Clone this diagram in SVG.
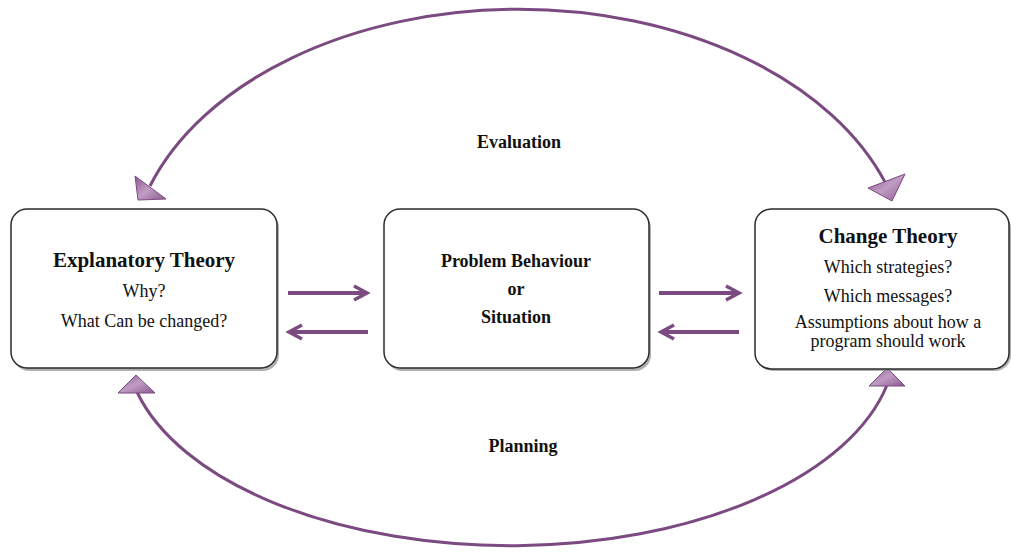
<svg xmlns="http://www.w3.org/2000/svg" width="1011" height="554" viewBox="0 0 1011 554">
<style>
.box{fill:#ffffff;stroke:#2b2b2b;stroke-width:1.5}
.shadow{fill:#8f8f8f;opacity:0.7}
.t{font-family:"Liberation Serif","Times New Roman",serif;fill:#111;text-anchor:middle}
.b{font-weight:bold}
.curve{fill:none;stroke:#7b4a80;stroke-width:3}
.arr{fill:none;stroke:#7b4a80;stroke-width:4}
.head{fill:none;stroke:#7b4a80;stroke-width:3.5;stroke-linejoin:miter}
.tri{fill:url(#g);stroke:#7b4a80;stroke-width:1}
</style>
<defs>
<linearGradient id="g" x1="0" y1="0" x2="1" y2="1">
<stop offset="0" stop-color="#8a5a8f"/>
<stop offset="0.5" stop-color="#c09cc3"/>
<stop offset="1" stop-color="#8a5a8f"/>
</linearGradient>
</defs>
<rect width="1011" height="554" fill="#ffffff"/>
<g id="connectors">
<path class="curve" d="M150,186 A389,260 0 0,1 886,184"/>
<path class="curve" d="M137,392 A385,203 0 0,0 887,385"/>
<polygon class="tri" points="135,176 138,200 166,199"/>
<polygon class="tri" points="905,174 868,188 892,201"/>
<polygon class="tri" points="136,375 118,393 155,393"/>
<polygon class="tri" points="887,368 869,386 905,386"/>
<path class="arr" d="M288,293 H365"/>
<path class="head" d="M354,286 L367,293 L354,300"/>
<path class="arr" d="M368,332 H291"/>
<path class="head" d="M302,325 L289,332 L302,339"/>
<path class="arr" d="M659,293 H737"/>
<path class="head" d="M726,286 L739,293 L726,300"/>
<path class="arr" d="M739,332 H664"/>
<path class="head" d="M674,325 L661,332 L674,339"/>
</g>
<g id="evaluation"><text class="t b" x="519" y="148" font-size="18">Evaluation</text></g>
<g id="planning"><text class="t b" x="523" y="452" font-size="18">Planning</text></g>
<g id="explanatory">
<rect class="shadow" x="13" y="212" width="266" height="159" rx="16"/>
<rect class="box" x="11" y="209" width="266" height="159" rx="16"/>
<text class="t b" x="144" y="267" font-size="21">Explanatory Theory</text>
<text class="t" x="144" y="297" font-size="18">Why?</text>
<text class="t" x="144" y="327" font-size="18">What Can be changed?</text>
</g>
<g id="problem">
<rect class="shadow" x="386" y="212" width="265" height="159" rx="16"/>
<rect class="box" x="384" y="209" width="265" height="159" rx="16"/>
<text class="t b" x="516" y="267" font-size="18">Problem Behaviour</text>
<text class="t b" x="516" y="295" font-size="18">or</text>
<text class="t b" x="516" y="323" font-size="18">Situation</text>
</g>
<g id="change">
<rect class="shadow" x="757" y="212" width="254" height="159" rx="16"/>
<rect class="box" x="755" y="209" width="254" height="160" rx="16"/>
<text class="t b" x="888" y="243" font-size="21">Change Theory</text>
<text class="t" x="888" y="273" font-size="18">Which strategies?</text>
<text class="t" x="888" y="302" font-size="18">Which messages?</text>
<text class="t" x="888" y="328" font-size="18">Assumptions about how a</text>
<text class="t" x="888" y="347" font-size="18">program should work</text>
</g>
</svg>
